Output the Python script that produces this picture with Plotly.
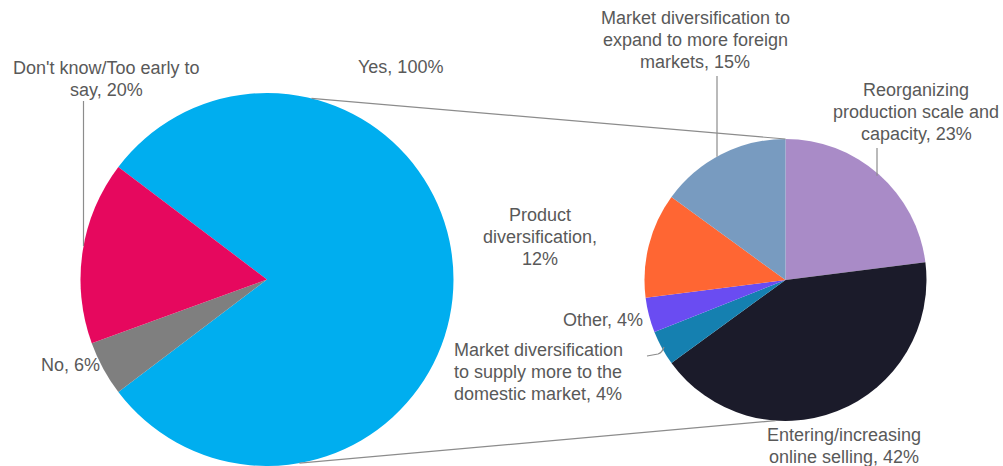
import math
import plotly.graph_objects as go

# ---------------- data ----------------
main_labels = ["Yes", "No", "Don't know/Too early to say"]
main_values = [100, 6, 20]
main_colors = ["#00AEEF", "#7F7F7F", "#E6085E"]

sub_labels = [
    "Reorganizing production scale and capacity",
    "Entering/increasing online selling",
    "Market diversification to supply more to the domestic market",
    "Other",
    "Product diversification",
    "Market diversification to expand to more foreign markets",
]
sub_values = [23, 42, 4, 4, 12, 15]
sub_colors = ["#A98BC7", "#1B1B2A", "#1580B0", "#6A4CF2", "#FF6633", "#789BC0"]

W, H = 1003, 466
FONT = "Liberation Sans, Arial, sans-serif"
TXT = "#595959"
LINE = "#8C8C8C"
FS = 18
LH = 22

# geometry (pixels)
L_cx, L_top, L_bot = 267.0, 93.0, 466.0
L_r = (L_bot - L_top) / 2.0
L_cy = (L_top + L_bot) / 2.0
R_cx, R_cy, R_r = 785.5, 280.0, 141.0


def px(x):
    return x / W


def py(y):
    return 1 - y / H


# rotation so that the "Yes" slice is centred at 3 o'clock
yes_share = main_values[0] / sum(main_values) * 360.0
main_rot = 90.0 - yes_share / 2.0

fig = go.Figure()
fig.add_trace(go.Pie(
    labels=main_labels, values=main_values, sort=False, direction="clockwise",
    rotation=main_rot, marker=dict(colors=main_colors, line=dict(width=0)),
    textinfo="none", hoverinfo="label+value",
    domain=dict(x=[px(L_cx - L_r), px(L_cx + L_r)], y=[0, py(L_top)]),
))
fig.add_trace(go.Pie(
    labels=sub_labels, values=sub_values, sort=False, direction="clockwise",
    rotation=0, marker=dict(colors=sub_colors, line=dict(width=0)),
    textinfo="none", hoverinfo="label+value",
    domain=dict(x=[px(R_cx - R_r), px(R_cx + R_r)], y=[py(R_cy + R_r), py(R_cy - R_r)]),
))


def on_circle(cx, cy, r, ang):
    a = math.radians(ang)
    return cx + r * math.sin(a), cy - r * math.cos(a)


shapes = []


def seg(x0, y0, x1, y1):
    shapes.append(dict(type="line", xref="paper", yref="paper",
                       x0=px(x0), y0=py(y0), x1=px(x1), y1=py(y1),
                       line=dict(color=LINE, width=1.2)))


# series lines between the pies
a0 = on_circle(L_cx, L_cy, L_r, 13.8)
b0 = on_circle(R_cx, R_cy, R_r, 0)
seg(*a0, *b0)
a1 = on_circle(L_cx, L_cy, L_r, 170)
b1 = on_circle(R_cx, R_cy, R_r, 184)
seg(*a1, *b1)

# leader lines
seg(83.5, 101, 83.5, 246)
seg(717, 76, 717, R_cy - math.sqrt(R_r**2 - (717 - R_cx) ** 2))
seg(877, 148, 877, R_cy - math.sqrt(R_r**2 - (877 - R_cx) ** 2) + 3)
shapes.append(dict(type="path", xref="paper", yref="paper",
                   path=f"M {px(647)} {py(356)} L {px(658)} {py(354)} Q {px(662)} {py(353)} {px(664)} {py(347)}",
                   line=dict(color=LINE, width=1.2)))

# label texts: (lines, centre x, y of first line)
labels = [
    (["Don't know/Too early to", "say, 20%"], 106, 68),
    (["Yes, 100%"], 400, 67),
    (["No, 6%"], 70, 365),
    (["Market diversification to", "expand to more foreign", "markets, 15%"], 695, 18),
    (["Reorganizing", "production scale and", "capacity, 23%"], 916, 90),
    (["Product", "diversification,", "12%"], 540, 215),
    (["Other, 4%"], 603, 320),
    (["Market diversification", "to supply more to the", "domestic market, 4%"], 538, 350),
    (["Entering/increasing", "online selling, 42%"], 844, 435),
]
annotations = []
for lines, x, y in labels:
    for i, t in enumerate(lines):
        annotations.append(dict(
            text=t, x=px(x), y=py(y + i * LH), xref="paper", yref="paper",
            showarrow=False, xanchor="center", yanchor="middle", align="center",
            borderpad=0, font=dict(family=FONT, size=FS, color=TXT)))

fig.update_layout(
    width=W, height=H, margin=dict(l=0, r=0, t=0, b=0),
    paper_bgcolor="white", plot_bgcolor="white", showlegend=False,
    shapes=shapes, annotations=annotations,
)
fig.write_html("out.html", config={"displayModeBar": False},
               post_script="document.body.style.margin='0';")
